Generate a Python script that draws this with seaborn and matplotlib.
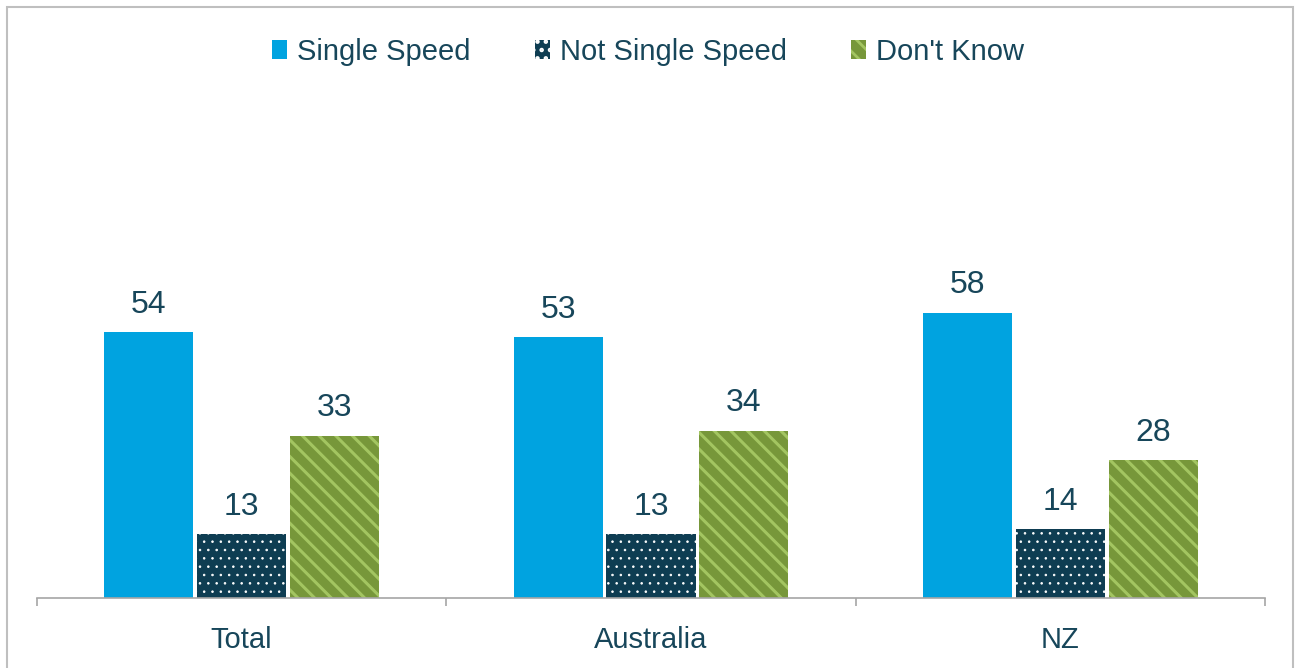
import matplotlib
matplotlib.use("Agg")
import matplotlib.pyplot as plt
from matplotlib.patches import Patch, Rectangle
import pandas as pd
import seaborn as sns

regions = ["Total", "Australia", "NZ"]
series = ["Single Speed", "Not Single Speed", "Don't Know"]
single_speed = [54, 53, 58]
not_single_speed = [13, 13, 14]
dont_know = [33, 34, 28]

colors = ["#00A3E0", "#0E3D52", "#77973A"]
hatch_colors = [None, "#FFFFFF", "#A3C561"]
hatches = [None, "..", "\\\\"]
hatch_widths = [1.0, 0.6, 2.2]
text_color = "#17465A"

df = pd.DataFrame({
    "region": regions * 3,
    "series": [s for s in series for _ in regions],
    "value": single_speed + not_single_speed + dont_know,
})

sns.set_theme(style="white")
plt.rcParams["font.family"] = ["Liberation Sans", "DejaVu Sans"]
plt.rcParams["hatch.linewidth"] = 2.0

W, H = 1296, 668
fig = plt.figure(figsize=(W / 100, H / 100), dpi=100)
ax = fig.add_axes([37 / W, 1 - 598 / H, (1265 - 37) / W, (598 - 106) / H])

sns.barplot(data=df, x="region", y="value", hue="series", order=regions,
            hue_order=series, palette=colors, width=0.68, gap=0.04,
            saturation=1, legend=False, ax=ax)


def style_patch(p, hc, hp, hw):
    p.set_linewidth(0)
    if hp:
        p.set_hatch(hp)
        p.set_edgecolor(hc)
        if hasattr(p, "set_hatch_linewidth"):
            p.set_hatch_linewidth(hw)


for cont, hc, hp, hw in zip(ax.containers, hatch_colors, hatches, hatch_widths):
    for bar in cont:
        style_patch(bar, hc, hp, hw)
    ax.bar_label(cont, fmt="%d", padding=9, fontsize=23, color=text_color)

ax.set_xlim(-0.5, 2.5)
ax.set_ylim(0, 100)
ax.set_xlabel("")
ax.set_ylabel("")
ax.set_yticks([])
for side in ["left", "right", "top"]:
    ax.spines[side].set_visible(False)
ax.spines["bottom"].set_color("#A6A6A6")
ax.spines["bottom"].set_linewidth(1.2)
ax.set_xticks(range(len(regions)))
ax.set_xticklabels(regions, fontsize=21, color=text_color)
ax.set_xticks([-0.5, 0.5, 1.5, 2.5], minor=True)
ax.tick_params(axis="x", which="major", length=0, pad=20)
ax.tick_params(axis="x", which="minor", length=6, width=1.2, color="#A6A6A6",
               direction="out", bottom=True)

handles = []
for c, hc, hp, hw in zip(colors, hatch_colors, hatches, hatch_widths):
    h = Patch(facecolor=c, edgecolor=hc if hc else c, hatch=hp, linewidth=0)
    if hp and hasattr(h, "set_hatch_linewidth"):
        h.set_hatch_linewidth(hw)
    handles.append(h)
fig.legend(handles, series, loc="center", bbox_to_anchor=(0.5, 1 - 52 / H),
           ncol=3, frameon=False, fontsize=21, labelcolor=text_color,
           handlelength=0.52, handleheight=0.6, handletextpad=0.34,
           columnspacing=2.2)

fig.patches.append(Rectangle((7 / W, -0.01), (1293 - 7) / W, 1 - 7 / H + 0.01,
                             transform=fig.transFigure, fill=False,
                             edgecolor="#BFBFBF", linewidth=1.5))

fig.savefig("out.png", dpi=100)
